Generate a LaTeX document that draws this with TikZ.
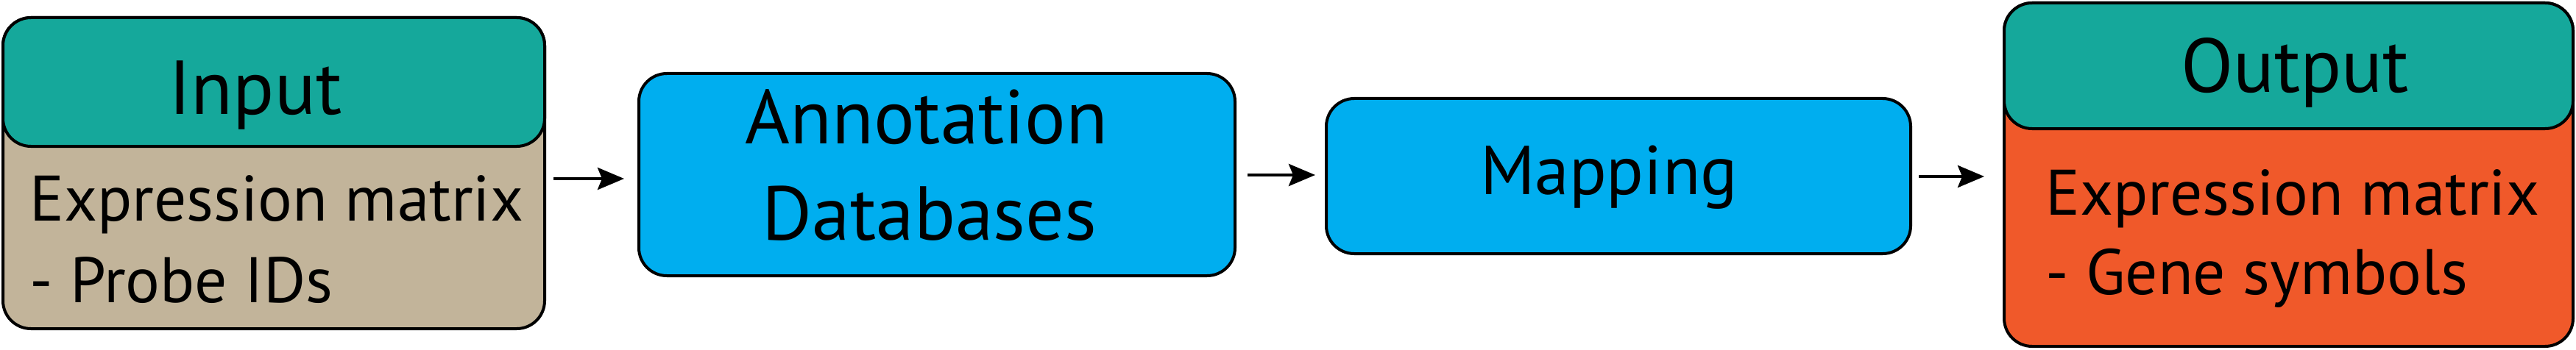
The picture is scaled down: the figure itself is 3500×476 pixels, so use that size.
\documentclass[tikz,border=0pt]{standalone}
\usepackage{fontspec}
\setmainfont{PT Sans}
\usetikzlibrary{arrows.meta}
\definecolor{hdteal}{RGB}{21,168,155}
\definecolor{bodytan}{RGB}{194,180,154}
\definecolor{stepcyan}{RGB}{0,174,239}
\definecolor{outorange}{RGB}{240,89,42}
\tikzset{
  box/.style={draw=black, line width=4pt, rounded corners=38pt, inner sep=0pt, outer sep=0pt},
  arr/.style={line width=4.5pt, -{Stealth[length=36pt,width=30pt,inset=6pt]}},
  bodytxt/.style={anchor=base west, inner sep=0pt, font=\fontsize{87.5}{100}\selectfont},
  headtxt/.style={anchor=base, inner sep=0pt, font=\fontsize{104}{120}\selectfont},
}
\begin{document}
\begin{tikzpicture}[x=1pt,y=-1pt]
\useasboundingbox (0,0) rectangle (3500,476);
% Input
\node[box, fill=bodytan, minimum width=736pt, minimum height=423pt] (inbody) at (372,235.5) {};
\node[box, fill=hdteal, minimum width=736pt, minimum height=175pt] (inhead) at (372,111.5) {};
\node[headtxt] (intitle) at (347,156) {Input};
\node[bodytxt] (inl1) at (40,300) {Expression matrix};
\node[bodytxt] (inl2) at (40,411) {- Probe IDs};
% Annotation
\node[box, fill=stepcyan, minimum width=810pt, minimum height=275pt] (annot) at (1273,237.5) {};
\node[headtxt] (an1) at (1259,195) {Annotation};
\node[headtxt] (an2) at (1263,326) {Databases};
% Mapping
\node[box, fill=stepcyan, minimum width=794pt, minimum height=211pt] (mapb) at (2199,239.5) {};
\node[headtxt, font=\fontsize{94}{110}\selectfont] (mp) at (2186,264) {Mapping};
% Output
\node[box, fill=outorange, minimum width=773pt, minimum height=467pt] (outbody) at (3109.5,237.5) {};
\node[box, fill=hdteal, minimum width=773pt, minimum height=171pt] (outhead) at (3109.5,89.5) {};
\node[headtxt] (outtitle) at (3118,125) {Output};
\node[bodytxt] (outl1) at (2779,292) {Expression matrix};
\node[bodytxt] (outl2) at (2779,400) {- Gene symbols};
% Arrows
\coordinate (a1s) at (752,243); \coordinate (a1e) at (848,243);
\coordinate (a2s) at (1695,238); \coordinate (a2e) at (1787,238);
\coordinate (a3s) at (2607,240); \coordinate (a3e) at (2696,240);
\draw[arr] (a1s) -- (a1e);
\draw[arr] (a2s) -- (a2e);
\draw[arr] (a3s) -- (a3e);
\end{tikzpicture}
\end{document}
